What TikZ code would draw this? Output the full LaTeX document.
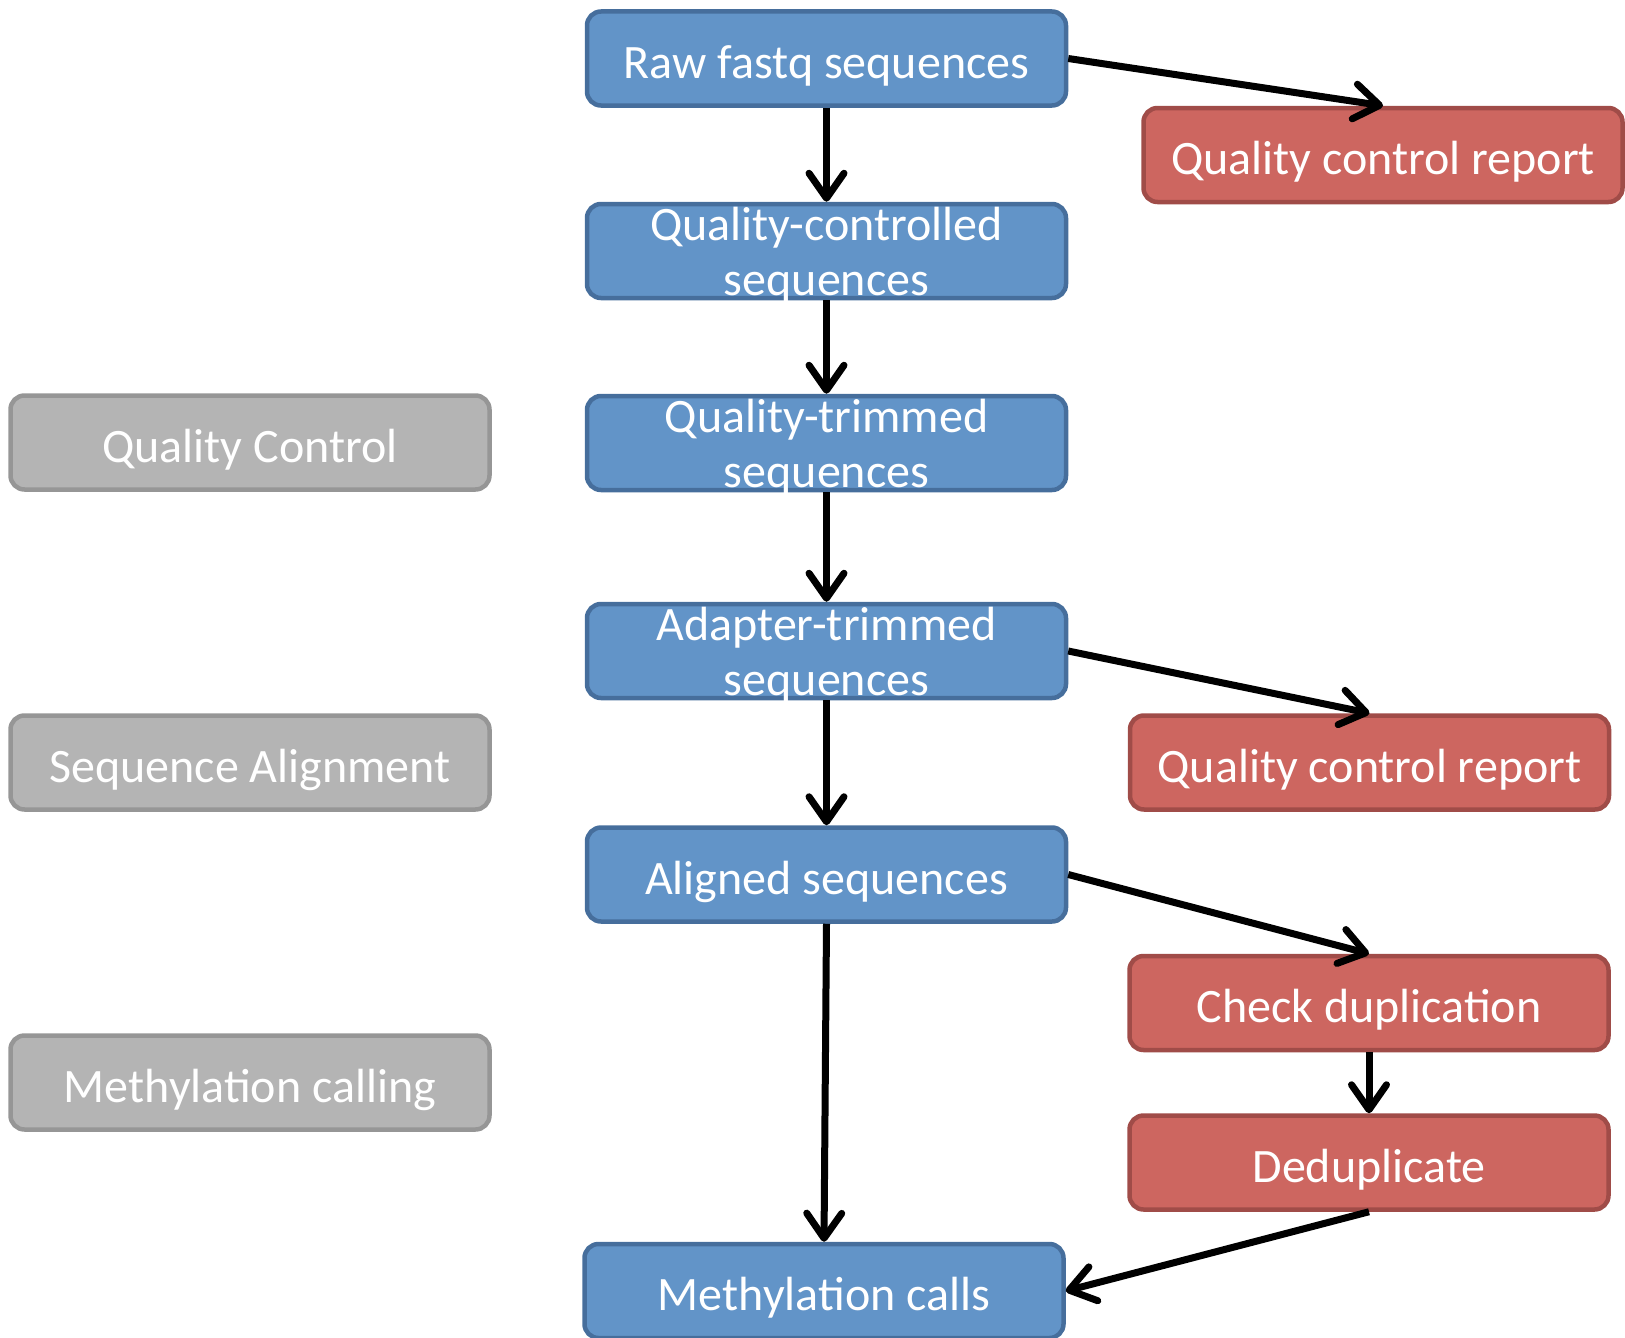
\documentclass[tikz,border=0pt]{standalone}
\usepackage{fontspec}
\setmainfont{Carlito}
\usetikzlibrary{arrows.meta}
\definecolor{bluefill}{RGB}{98,148,200}
\definecolor{blueline}{RGB}{70,110,156}
\definecolor{redfill}{RGB}{205,102,96}
\definecolor{redline}{RGB}{160,76,72}
\definecolor{grayfill}{RGB}{180,180,180}
\definecolor{grayline}{RGB}{150,150,150}
\tikzset{
  box/.style={rectangle, rounded corners=14pt, line width=4.5pt, minimum width=479pt,
    minimum height=94pt, inner sep=0pt, text=white,
    font={\fontsize{48}{55}\selectfont}, text height=39pt, text depth=0pt},
  twoline/.style={text height=88pt, text depth=0pt},
  bluebox/.style={box, fill=bluefill, draw=blueline},
  redbox/.style={box, fill=redfill, draw=redline},
  graybox/.style={box, fill=grayfill, draw=grayline},
  conn/.style={line width=7pt, -{Straight Barb[length=25pt,width=35pt,round]}}
}
\newcommand{\twolines}[2]{\begin{tabular}[b]{@{}c@{}}#1\\#2\end{tabular}}
\begin{document}
\begin{tikzpicture}[x=1pt,y=-1pt]
\useasboundingbox (0,0) rectangle (1625,1338);
% blue column
\node[bluebox] (raw) at (826.5,58.5) {Raw fastq sequences};
\node[bluebox,twoline] (qcs) at (826.5,251) {\twolines{Quality-controlled}{sequences}};
\node[bluebox,twoline] (qts) at (826.5,443) {\twolines{Quality-trimmed}{sequences}};
\node[bluebox,twoline] (ats) at (826.5,651) {\twolines{Adapter-trimmed}{sequences}};
\node[bluebox] (als) at (826.5,874.5) {Aligned sequences};
\node[bluebox] (mc) at (824,1291) {Methylation calls};
% red column
\node[redbox] (qr1) at (1383,155) {Quality control report};
\node[redbox] (qr2) at (1369.5,762.5) {Quality control report};
\node[redbox] (cd) at (1369,1003) {Check duplication};
\node[redbox] (dd) at (1369,1162.5) {Deduplicate};
% gray column
\node[graybox] (qc) at (250,442.5) {Quality Control};
\node[graybox] (sa) at (250,762.5) {Sequence Alignment};
\node[graybox] (mcl) at (250,1082.5) {Methylation calling};
% connectors
\draw[conn] (raw.south) -- (qcs.north);
\draw[conn] (qcs.south) -- (qts.north);
\draw[conn] (qts.south) -- (ats.north);
\draw[conn] (ats.south) -- (als.north);
\draw[conn] (raw.east) -- (qr1.north);
\draw[conn] (ats.east) -- (qr2.north);
\draw[conn] (als.east) -- (cd.north);
\draw[conn] (als.south) -- (mc.north);
\draw[conn] (cd.south) -- (dd.north);
\draw[conn] (dd.south) -- (mc.east);
\end{tikzpicture}
\end{document}
